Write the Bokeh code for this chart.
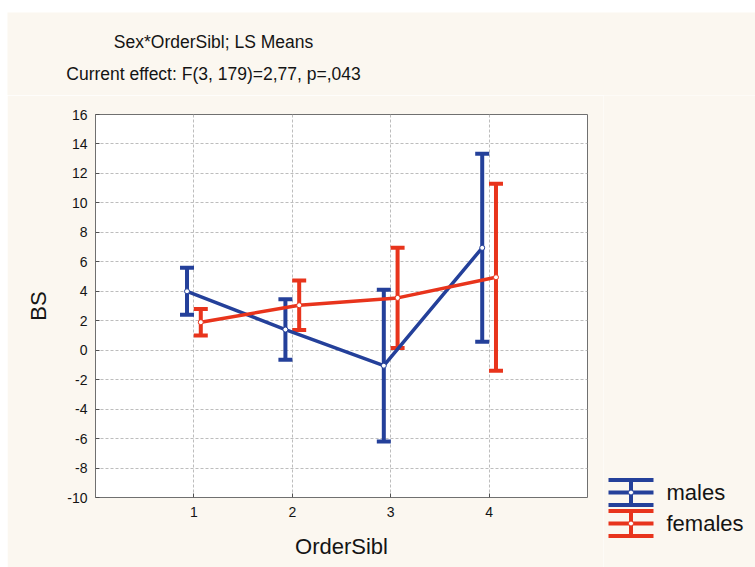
from bokeh.plotting import figure
from bokeh.models import Range1d, Whisker, TeeHead, ColumnDataSource, Spacer
from bokeh.layouts import row, column
from bokeh.embed import file_html
from bokeh.resources import INLINE
from bokeh.core.properties import value

# ---- data ----
order_levels = [1, 2, 3, 4]
y_ticks = [-10, -8, -6, -4, -2, 0, 2, 4, 6, 8, 10, 12, 14, 16]
series_names = ["males", "females"]
males_mean = [4.0, 1.4, -1.05, 6.95]
males_err = [1.6, 2.05, 5.15, 6.38]
females_mean = [1.9, 3.05, 3.55, 4.95]
females_err = [0.9, 1.68, 3.4, 6.35]
title_lines = ["Sex*OrderSibl; LS Means", "Current effect: F(3, 179)=2,77, p=,043"]

# ---- style ----
BG = "#fbf7f0"
BLUE = "#24409a"
RED = "#e8341c"
FONT = "Liberation Sans"
TXT = "#141414"

TOTAL_W, TOP_H, MAIN_H = 748, 83, 472
P_W = 596
LEG_W = TOTAL_W - P_W


def blank(w, h):
    f = figure(width=w, height=h, x_range=Range1d(0, w), y_range=Range1d(h, 0),
               output_backend="svg", toolbar_location=None, min_border=0,
               x_axis_location=None, y_axis_location=None)
    f.grid.visible = False
    f.outline_line_color = None
    f.background_fill_color = BG
    f.border_fill_color = BG
    return f


# ---- title panel ----
top = blank(TOTAL_W, TOP_H)
TITLE_CX, TITLE_Y0, TITLE_DY = 206, 29, 32
for i, t in enumerate(title_lines):
    top.text(x=[TITLE_CX], y=[TITLE_Y0 + i * TITLE_DY], text=[t], text_align="center",
             text_baseline="middle", text_font=value(FONT), text_font_size="17.5px",
             text_color=TXT)

# ---- main plot ----
p = figure(width=P_W, height=MAIN_H, x_range=Range1d(0, 5), y_range=Range1d(-10, 16),
           output_backend="svg", toolbar_location=None,
           min_border_left=88, min_border_top=19, min_border_bottom=70, min_border_right=16)
p.background_fill_color = "white"
p.border_fill_color = BG
p.outline_line_color = "#707070"
p.outline_line_width = 1

p.xaxis.ticker = order_levels
p.yaxis.ticker = y_ticks
p.yaxis.major_label_overrides = {t: str(t) for t in y_ticks}
for ax in (p.xaxis[0], p.yaxis[0]):
    ax.axis_line_color = None
    ax.major_tick_in = 4
    ax.major_tick_out = 0
    ax.major_tick_line_color = "#505050"
    ax.minor_tick_line_color = None
    ax.major_label_text_font = FONT
    ax.major_label_text_font_size = "14px"
    ax.major_label_text_color = TXT
    ax.axis_label_text_font = FONT
    ax.axis_label_text_font_size = "22px"
    ax.axis_label_text_font_style = "normal"
    ax.axis_label_text_color = TXT
p.xaxis.axis_label = "OrderSibl"
p.yaxis.axis_label = "BS"
p.xaxis.major_label_standoff = 9
p.xaxis.axis_label_standoff = 14
p.yaxis.major_label_standoff = 8
p.yaxis.axis_label_standoff = 13

p.xgrid.ticker = order_levels
p.ygrid.ticker = y_ticks
for g in (p.xgrid[0], p.ygrid[0]):
    g.grid_line_color = "#bdbdbd"
    g.grid_line_dash = "3 2"
    g.grid_line_width = 1

offsets = [-0.07, 0.07]
colors = [BLUE, RED]
for name, mean, err, color, off in zip(series_names, [males_mean, females_mean],
                                       [males_err, females_err], colors, offsets):
    xs = [x + off for x in order_levels]
    src = ColumnDataSource(dict(x=xs, mean=mean,
                                upper=[m + e for m, e in zip(mean, err)],
                                lower=[m - e for m, e in zip(mean, err)]))
    w = Whisker(source=src, base="x", upper="upper", lower="lower", dimension="height",
                line_color=color, line_width=4, level="underlay",
                upper_head=TeeHead(size=14, line_color=color, line_width=4),
                lower_head=TeeHead(size=14, line_color=color, line_width=4))
    p.add_layout(w)
    p.line(x="x", y="mean", source=src, line_color=color, line_width=3.5)
    p.scatter(x="x", y="mean", source=src, marker="circle", size=5,
              fill_color="white", line_color=color, line_width=1)

# ---- legend panel ----
p2 = blank(LEG_W, MAIN_H)
LEG_Y0, LEG_ROW, ICON_H, IX0, IX1, TX = 397, 31, 25, 5, 50, 63
icx = (IX0 + IX1) / 2
for i, (name, color) in enumerate(zip(series_names, colors)):
    cy = LEG_Y0 + i * LEG_ROW
    t0, b0 = cy - ICON_H / 2, cy + ICON_H / 2
    p2.segment(x0=[IX0, IX0, IX0, icx], y0=[t0, cy, b0, t0],
               x1=[IX1, IX1, IX1, icx], y1=[t0, cy, b0, b0],
               line_color=color, line_width=4)
    p2.scatter(x=[icx], y=[cy], marker="circle", size=5, fill_color="white",
               line_color=color, line_width=1)
    p2.text(x=[TX], y=[cy], text=[name], text_baseline="middle", text_align="left",
            text_font=value(FONT), text_font_size="22px", text_color=TXT)

layout = column(Spacer(height=12),
                row(Spacer(width=7), column(top, row(column(p), column(p2)))))
open("out.html", "w").write(file_html(layout, INLINE))
